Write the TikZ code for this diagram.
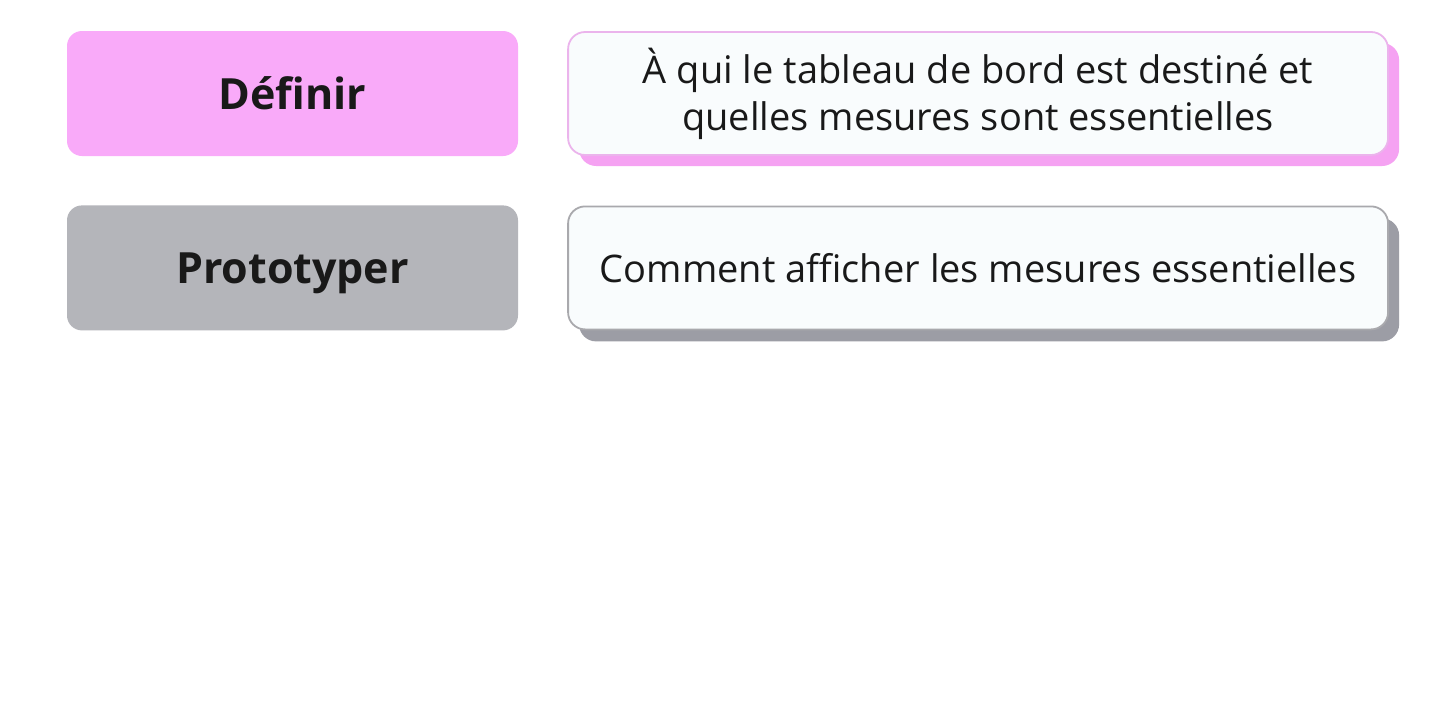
\documentclass[tikz,border=0pt]{standalone}
\usepackage{fontspec}
\setmainfont{Open Sans}
\usetikzlibrary{positioning,shadows}
\definecolor{PhasePink}{HTML}{F9AAF9}
\definecolor{PhaseGray}{HTML}{B4B5BA}
\definecolor{ShadowPink}{HTML}{F5A2F2}
\definecolor{ShadowGray}{HTML}{9C9DA5}
\definecolor{EdgePink}{HTML}{EBB4EC}
\definecolor{EdgeGray}{HTML}{A9A9AD}
\definecolor{DetailWhite}{HTML}{F9FCFD}

\begin{document}
\begin{tikzpicture}[x=1pt,y=-1pt,
   phase/.style={rounded corners=15pt, minimum width=451pt, minimum height=125pt,
     inner sep=0pt, text depth=0pt, text=black!90,
     font=\fontsize{43}{48}\selectfont\bfseries},
   detail/.style={rounded corners=17pt, line width=1.8pt, fill=DetailWhite,
     minimum width=820pt, minimum height=123pt, inner sep=0pt, align=center,
     text=black!90, font=\fontsize{38}{47}\selectfont}]
   \useasboundingbox[fill=white] (0,0) rectangle (1436,715);

   \node[phase, fill=PhasePink] (definir) at (292.5,93.5) {Définir};
   \node[phase, fill=PhaseGray, below=49pt of definir] (prototyper) {Prototyper};

   \node[detail, draw=EdgePink, right=49pt of definir,
     drop shadow={shadow xshift=11pt, shadow yshift=-11pt, fill=ShadowPink, opacity=1}]
     (cible) {À qui le tableau de bord est destiné et\\quelles mesures sont essentielles};
   \node[detail, draw=EdgeGray, right=49pt of prototyper,
     drop shadow={shadow xshift=11pt, shadow yshift=-12pt, fill=ShadowGray, opacity=1}]
     (affichage) {Comment afficher les mesures essentielles};
\end{tikzpicture}
\end{document}
